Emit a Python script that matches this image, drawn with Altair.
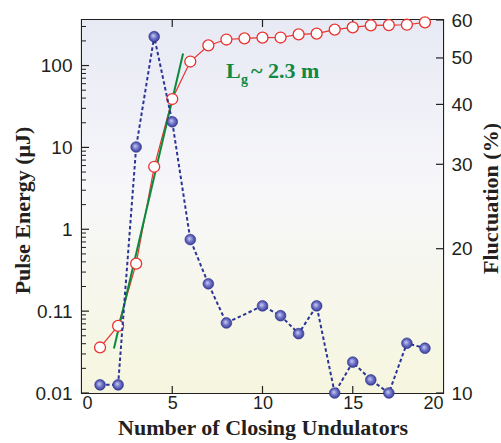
import altair as alt
import pandas as pd

# ---------------- data ----------------
undulators = [1, 2, 3, 4, 5, 6, 7, 8, 9, 10, 11, 12, 13, 14, 15, 16, 17, 18, 19]
pulse_energy = [0.036, 0.066, 0.38, 5.8, 39, 112, 176, 208, 215, 219, 220, 240, 245, 275, 292, 310, 312, 315, 337]

fluct_x = [1, 2, 3, 4, 5, 6, 7, 8, 10, 11, 12, 13, 14, 15, 16, 17, 18, 19]
fluctuation = [10.4, 10.4, 32.6, 55.4, 36.8, 20.9, 16.9, 14.0, 15.2, 14.5, 13.3, 15.2, 10.0, 11.6, 10.65, 10.0, 12.7, 12.4]

fit_x = [1.77, 5.6]
fit_y = [0.035, 140]

left_tick_values = [0.01, 0.1, 1, 10, 100]
left_tick_labels = ["0.01", "0.11", "1", "10", "100"]
left_minor = [m * d for d in [0.01, 0.1, 1, 10, 100] for m in [2, 3, 4, 5, 6, 7, 8, 9]]
right_tick_values = [10, 20, 30, 40, 50, 60]
x_tick_values = [0, 5, 10, 15, 20]

W, H = 361, 373
INK = "#231f20"
SANS = "Liberation Sans"
SERIF = "Liberation Serif"

red_df = pd.DataFrame({"x": undulators, "y": pulse_energy})
blue_df = pd.DataFrame({"x": fluct_x, "y": fluctuation})
fit_df = pd.DataFrame({"x": fit_x, "y": fit_y})
lmaj_df = pd.DataFrame({"y": left_tick_values})
lmin_df = pd.DataFrame({"y": [v for v in left_minor if v < 360]})
rmaj_df = pd.DataFrame({"y": right_tick_values})
xt_df = pd.DataFrame({"x": x_tick_values[1:-1]})

label_expr = " : ".join(
    f"abs(datum.value - {v}) < {v * 1e-3} ? '{l}'" for v, l in zip(left_tick_values, left_tick_labels)
) + " : ''"

x_scale = alt.Scale(domain=[0, 20], nice=False, zero=False)
x_axis = alt.Axis(values=x_tick_values, ticks=False, domain=False, grid=False,
                  labelFont=SANS, labelFontSize=18, labelColor=INK, labelPadding=1,
                  title="Number of Closing Undulators", titleFont=SERIF, titleFontSize=22,
                  titleFontWeight="bold", titleColor=INK,
                  titleY=41, titleBaseline="alphabetic")
X = alt.X("x:Q", scale=x_scale, axis=x_axis)

ly_scale = alt.Scale(type="log", domain=[0.01, 360], nice=False)
ly_axis = alt.Axis(values=left_tick_values, labelExpr=label_expr, ticks=False, domain=False, grid=False,
                   labelFont=SANS, labelFontSize=19, labelColor=INK, labelPadding=10,
                   title="Pulse Energy (μJ)", titleFont=SERIF, titleFontSize=22,
                   titleFontWeight="bold", titleColor=INK, titleAngle=270,
                   titleX=-53, titleY=190, titleBaseline="alphabetic", titleAlign="center")
LY = alt.Y("y:Q", scale=ly_scale, axis=ly_axis)

ry_scale = alt.Scale(type="log", domain=[10, 60], nice=False)
ry_axis = alt.Axis(orient="right", values=right_tick_values, format="d", ticks=False, domain=False, grid=False,
                   labelFont=SANS, labelFontSize=19, labelColor=INK, labelPadding=8,
                   title="Fluctuation (%)", titleFont=SERIF, titleFontSize=22, titleAngle=270,
                   titleFontWeight="bold", titleColor=INK,
                   titleX=54, titleY=178, titleBaseline="alphabetic", titleAlign="center")
RY = alt.Y("y:Q", scale=ry_scale, axis=ry_axis)

bg = alt.Chart(pd.DataFrame({"a": [0]})).mark_rect(
    fill=alt.Gradient(gradient="linear", x1=0, x2=0, y1=0, y2=1,
                      stops=[alt.GradientStop(color="#e7e9f4", offset=0),
                             alt.GradientStop(color="#f7f7fa", offset=0.45),
                             alt.GradientStop(color="#f6f6df", offset=1)])
).encode(x=alt.value(0), x2=alt.value(W), y=alt.value(0), y2=alt.value(H))

lmaj = alt.Chart(lmaj_df).mark_rule(color=INK, strokeWidth=1.2).encode(y=LY, x=alt.value(0), x2=alt.value(7))
lmin = alt.Chart(lmin_df).mark_rule(color=INK, strokeWidth=1).encode(y=LY, x=alt.value(0), x2=alt.value(4))
xb = alt.Chart(xt_df).mark_rule(color=INK, strokeWidth=1.2).encode(x=X, y=alt.value(H), y2=alt.value(H - 7))
xtop = alt.Chart(xt_df).mark_rule(color=INK, strokeWidth=1.2).encode(x=X, y=alt.value(0), y2=alt.value(7))

red_line = alt.Chart(red_df).mark_line(color="#e8332e", strokeWidth=1.2).encode(x=X, y=LY)
red_pts = alt.Chart(red_df).mark_point(shape="circle", size=120, filled=True, fill="white",
                                        stroke="#e8332e", strokeWidth=1.3, opacity=1).encode(x=X, y=LY)
green = alt.Chart(fit_df).mark_line(color="#0b8a3e", strokeWidth=2).encode(x=X, y=LY)

txt_style = dict(font=SERIF, fontWeight="bold", color="#0f8a45", align="left", baseline="alphabetic")
t_L = alt.Chart(pd.DataFrame({"t": ["L"]})).mark_text(fontSize=22, **txt_style).encode(
    text="t:N", x=alt.value(144), y=alt.value(58))
t_g = alt.Chart(pd.DataFrame({"t": ["g"]})).mark_text(fontSize=14, **txt_style).encode(
    text="t:N", x=alt.value(159), y=alt.value(64))
t_rest = alt.Chart(pd.DataFrame({"t": ["~ 2.3 m"]})).mark_text(fontSize=22, **txt_style).encode(
    text="t:N", x=alt.value(169), y=alt.value(58))

left = alt.layer(bg, lmaj, lmin, xb, xtop, red_line, green, red_pts, t_L, t_g, t_rest)

rmaj = alt.Chart(rmaj_df).mark_rule(color=INK, strokeWidth=1.2).encode(y=RY, x=alt.value(W - 7), x2=alt.value(W))
blue_line = alt.Chart(blue_df).mark_line(color="#2a3596", strokeWidth=2, strokeDash=[3.5, 2.5]).encode(x=X, y=RY)
blue_pts = alt.Chart(blue_df).mark_point(
    shape="circle", size=115, filled=True, opacity=1, stroke="#2a2f8a", strokeWidth=0.6,
    fill=alt.Gradient(gradient="radial", x1=0.4, y1=0.4, r1=0, x2=0.5, y2=0.5, r2=0.55,
                      stops=[alt.GradientStop(color="#cfd1f3", offset=0),
                             alt.GradientStop(color="#7074c8", offset=0.5),
                             alt.GradientStop(color="#2f3490", offset=1)])
).encode(x=X, y=RY)
right = alt.layer(rmaj, blue_line, blue_pts)

chart = alt.layer(left, right).resolve_scale(y="independent").properties(
    width=W, height=H,
    autosize=alt.AutoSizeParams(type="none"),
    padding={"left": 82, "top": 20, "right": 58, "bottom": 50},
    background="white",
).configure_view(stroke=INK, strokeWidth=2.2)

chart.save("out.html", embed_options={"renderer": "svg", "actions": False})
